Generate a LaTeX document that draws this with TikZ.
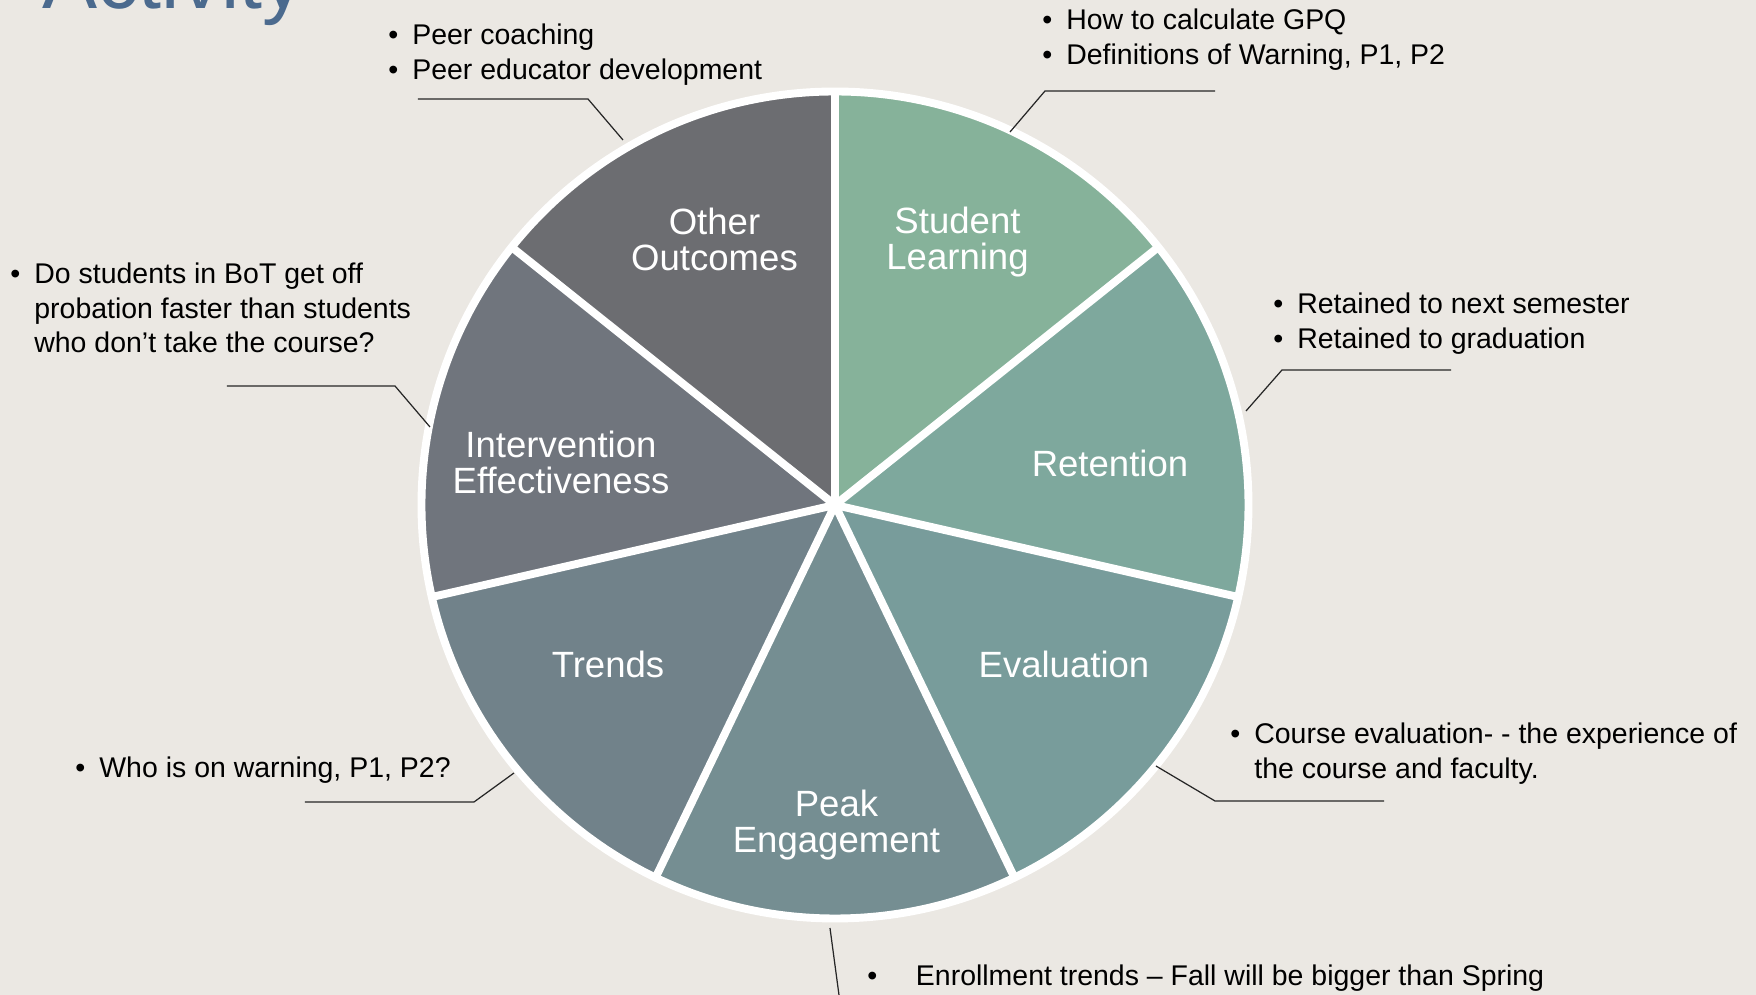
\documentclass[tikz,border=0pt]{standalone}
\usepackage{fontspec}
\setmainfont{Liberation Sans}

\definecolor{bgcol}{HTML}{EBE8E3}
\definecolor{titleblue}{HTML}{4B6A8E}
\definecolor{segA}{HTML}{86B29A}
\definecolor{segB}{HTML}{7EA89D}
\definecolor{segC}{HTML}{789C9B}
\definecolor{segD}{HTML}{758E92}
\definecolor{segE}{HTML}{71828A}
\definecolor{segF}{HTML}{70757D}
\definecolor{segG}{HTML}{6C6D71}

\newcommand{\bl}{\textbullet}

\begin{document}
\begin{tikzpicture}[line join=round]
\tikzstyle{note}=[anchor=base west, inner sep=0pt, font=\fontsize{16.2}{19.6}\selectfont]
\tikzstyle{slice}=[text=white, inner sep=0pt, align=center, font=\fontsize{20.8}{20.5}\selectfont]
\tikzstyle{leader}=[draw=black!85, line width=0.7pt]
\tikzstyle{rim}=[draw=white, line width=4.5pt]

\useasboundingbox[fill=bgcol] (-16.7,-9.8) rectangle (18.42,10.1);

% wedges, clockwise from the top
\foreach \col [count=\i] in {segA,segB,segC,segD,segE,segF,segG} {
  \pgfmathsetmacro\a{90-(\i-1)*360/7}
  \pgfmathsetmacro\b{90-\i*360/7}
  \fill[\col] (0,0) -- (\a:8.27) arc[start angle=\a, end angle=\b, radius=8.27] -- cycle;
}
\foreach \i in {0,...,6}
  \draw[rim] (0,0) -- ({90-\i*360/7}:8.27);
\draw[rim] (0,0) circle (8.27);

\node[anchor=base west, inner sep=0pt, text=titleblue, font=\fontsize{47}{47}\selectfont] (title) at (-15.86, 9.92) {Activity};

\node[slice] (learn) at ( 2.45, 5.26) {Student\\Learning};
\node[slice] (ret)   at ( 5.50, 0.83) {Retention};
\node[slice] (eval)  at ( 4.58,-3.18) {Evaluation};
\node[slice] (peak)  at ( 0.03,-6.40) {Peak\\Engagement};
\node[slice] (trend) at (-4.54,-3.18) {Trends};
\node[slice] (interv) at (-5.48, 0.85) {Intervention\\Effectiveness};
\node[slice] (other) at (-2.41, 5.31) {Other\\Outcomes};

% notes
\node[note] (nOther) at (-8.94, 9.20) {\begin{tabular}[t]{@{}l@{\hspace{8pt}}l@{}}
  \bl & Peer coaching\\ \bl & Peer educator development\end{tabular}};
\node[note] (nLearn) at (4.14, 9.50) {\begin{tabular}[t]{@{}l@{\hspace{8pt}}l@{}}
  \bl & How to calculate GPQ\\ \bl & Definitions of Warning, P1, P2\end{tabular}};
\node[note] (nRet) at (8.76, 3.82) {\begin{tabular}[t]{@{}l@{\hspace{8pt}}l@{}}
  \bl & Retained to next semester\\ \bl & Retained to graduation\end{tabular}};
\node[note] (nEval) at (7.90,-4.78) {\begin{tabular}[t]{@{}l@{\hspace{8pt}}l@{}}
  \bl & Course evaluation- - the experience of\\ & the course and faculty.\end{tabular}};
\node[note] (nPeak) at (0.64,-9.62) {\begin{tabular}[t]{@{}l@{\hspace{22pt}}l@{}}
  \bl & Enrollment trends – Fall will be bigger than Spring\end{tabular}};
\node[note] (nTrend) at (-15.20,-5.46) {\begin{tabular}[t]{@{}l@{\hspace{8pt}}l@{}}
  \bl & Who is on warning, P1, P2?\end{tabular}};
\node[note] (nInterv) at (-16.50, 4.42) {\begin{tabular}[t]{@{}l@{\hspace{8pt}}l@{}}
  \bl & Do students in BoT get off\\ & probation faster than students\\ & who don’t take the course?\end{tabular}};

% leader lines
\coordinate (oRim)  at (-4.24, 7.30);
\coordinate (oBend) at (-4.94, 8.12);
\coordinate (oEnd)  at (-8.34, 8.12);
\coordinate (lRim)  at ( 3.50, 7.46);
\coordinate (lBend) at ( 4.20, 8.28);
\coordinate (lEnd)  at ( 7.60, 8.28);
\coordinate (rRim)  at ( 8.22, 1.88);
\coordinate (rBend) at ( 8.94, 2.70);
\coordinate (rEnd)  at (12.32, 2.70);
\coordinate (eRim)  at ( 6.42,-5.22);
\coordinate (eBend) at ( 7.60,-5.92);
\coordinate (eEnd)  at (10.98,-5.92);
\coordinate (pRim)  at (-0.10,-8.46);
\coordinate (pEnd)  at ( 0.08,-9.80);
\coordinate (tRim)  at (-6.42,-5.36);
\coordinate (tBend) at (-7.22,-5.94);
\coordinate (tEnd)  at (-10.60,-5.94);
\coordinate (iRim)  at (-8.10, 1.56);
\coordinate (iBend) at (-8.80, 2.38);
\coordinate (iEnd)  at (-12.16, 2.38);

\draw[leader] (oRim) -- (oBend) -- (oEnd);
\draw[leader] (lRim) -- (lBend) -- (lEnd);
\draw[leader] (rRim) -- (rBend) -- (rEnd);
\draw[leader] (eRim) -- (eBend) -- (eEnd);
\draw[leader] (pRim) -- (pEnd);
\draw[leader] (tRim) -- (tBend) -- (tEnd);
\draw[leader] (iRim) -- (iBend) -- (iEnd);

\end{tikzpicture}
\end{document}
